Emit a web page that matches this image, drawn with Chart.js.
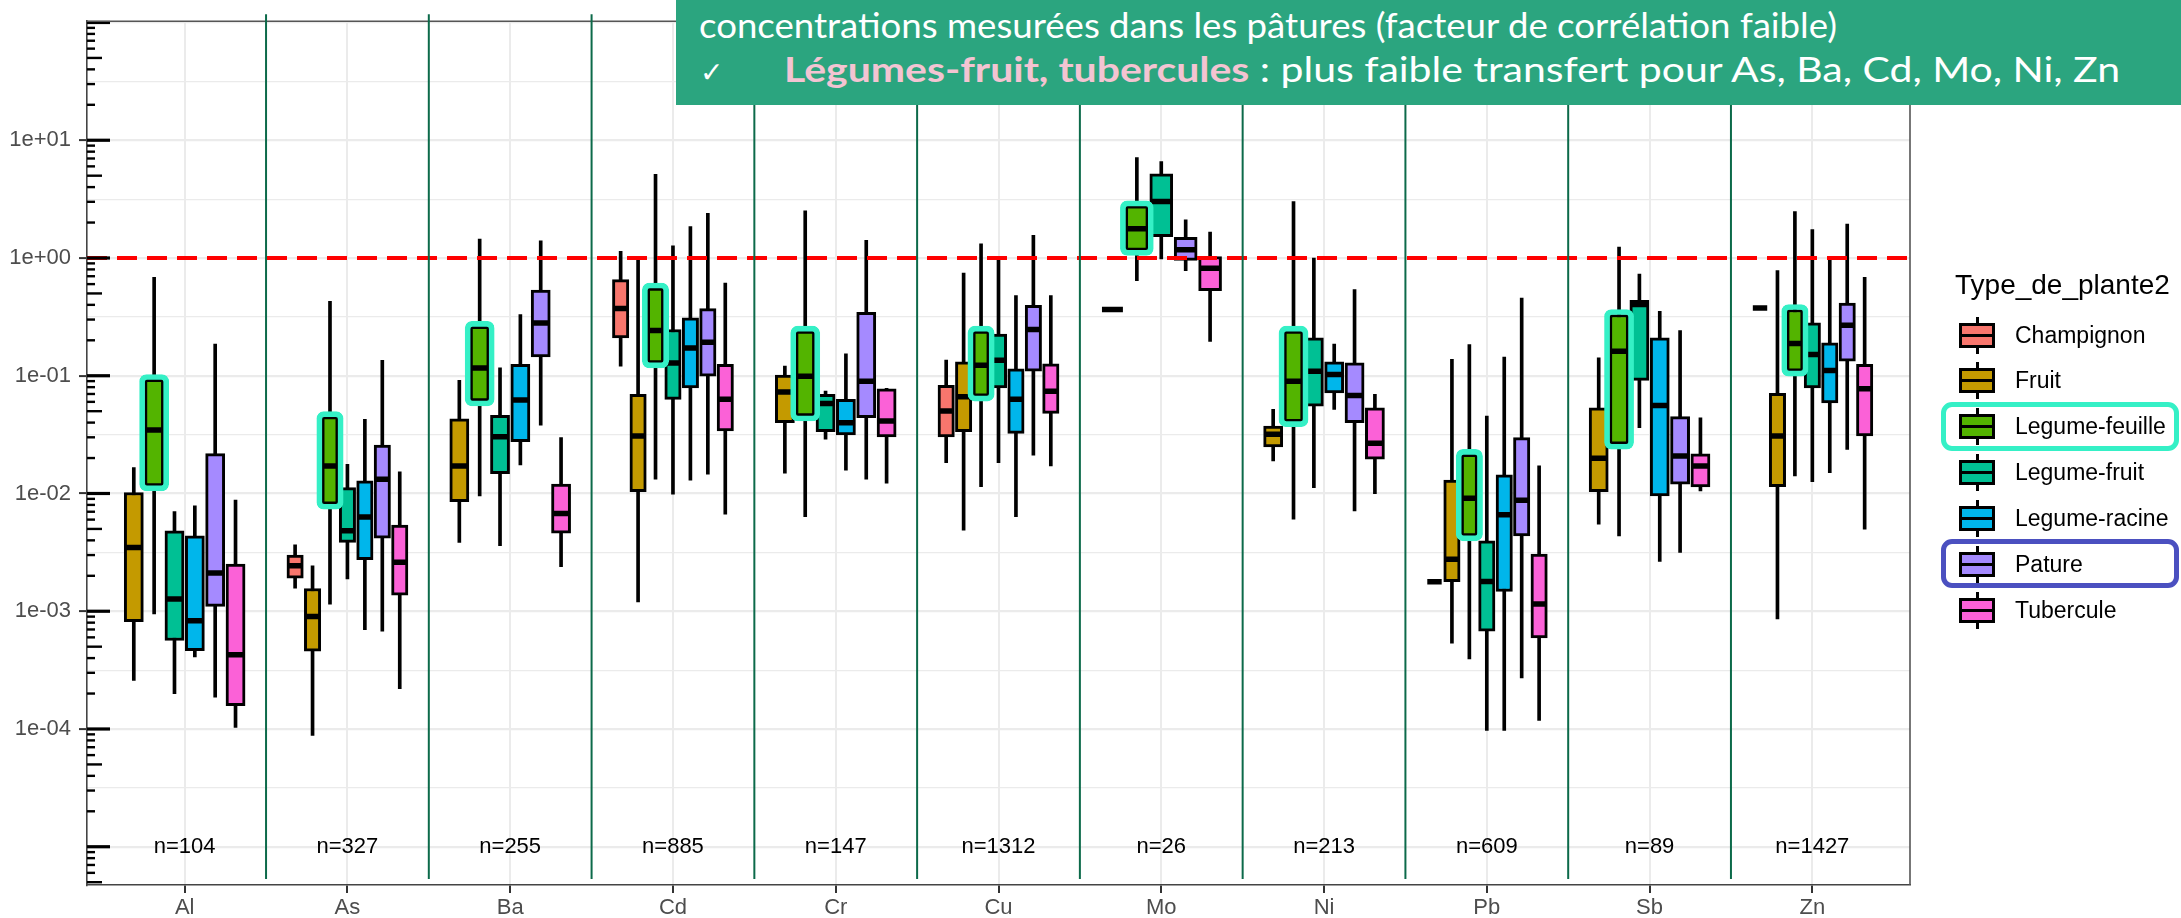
<!DOCTYPE html>
<html>
<head>
<meta charset="utf-8">
<script src="https://cdn.jsdelivr.net/npm/chart.js@4.4.1/dist/chart.umd.min.js"></script>
<style>
  html, body { margin: 0; padding: 0; background: #fff; }
  #wrap { position: relative; width: 2181px; height: 918px; overflow: hidden; }
  #chart { position: absolute; left: 0; top: 0; }
  .banner { position: absolute; left: 676px; top: 0; width: 1505px; height: 105px; background: #2ba57f;
            color: #fff; font-family: Lato, "Open Sans", sans-serif; font-size: 35px; }
  .banner .line { position: absolute; white-space: nowrap; line-height: 35px; transform-origin: 0 50%; }
  .banner .pink { color: #f3c4d2; font-weight: 700; }
  .banner .check { font-family: "DejaVu Sans", sans-serif; font-size: 28px; }
  .legend { position: absolute; left: 0; top: 0; font-family: "Liberation Sans", Arial, sans-serif; color: #000; }
  .legend .title { position: absolute; left: 1955px; top: 271px; font-size: 28px; line-height: 28px; white-space: nowrap; }
  .legend .item { position: absolute; left: 1959px; height: 37px; }
  .legend .whisk { position: absolute; left: 16.5px; top: 0; width: 3px; height: 37px; background: #000; }
  .legend .box { position: absolute; left: 0; top: 6px; width: 36px; height: 25px; box-sizing: border-box; border: 3px solid #000; }
  .legend .med { position: absolute; left: 0; top: 17px; width: 36px; height: 3px; background: #000; }
  .legend .label { position: absolute; left: 56px; top: 0; height: 37px; line-height: 37px; font-size: 23px; white-space: nowrap; }
  .legend .frame { position: absolute; left: 1941px; width: 238px; height: 49px; box-sizing: border-box; border: 5px solid; border-radius: 11px; }
</style>
</head>
<body>
<div id="wrap">
  <canvas id="chart" width="2181" height="918"></canvas>
  <div class="banner">
    <div class="line" id="bannerLine2" style="left:23px; top:7px;">concentrations mesurées dans les pâtures (facteur de corrélation faible)</div>
    <div class="line" style="left:24px; top:51px;"><span class="check">✓</span></div>
    <div class="line" id="bannerLine3" style="left:108px; top:51px;"><span class="pink">Légumes-fruit, tubercules</span> : plus faible transfert pour As, Ba, Cd, Mo, Ni, Zn</div>
  </div>
  <div class="legend" id="legend"></div>
</div>
<script>
// elements on the x axis, with sample sizes
const elements = ['Al', 'As', 'Ba', 'Cd', 'Cr', 'Cu', 'Mo', 'Ni', 'Pb', 'Sb', 'Zn'];
const sampleSizes = [104, 327, 255, 885, 147, 1312, 26, 213, 609, 89, 1427];

const plantTypes = ['Champignon', 'Fruit', 'Legume-feuille', 'Legume-fruit', 'Legume-racine', 'Pature', 'Tubercule'];
const plantColors = ['#f8766d', '#c49a00', '#53b400', '#00c094', '#00b6eb', '#a58aff', '#fb61d7'];

// box stats per element: [min, q1, median, q3, max], null = no data
const champignon = [
  null, [1.57e-3, 1.91e-3, 2.43e-3, 3.0e-3, 3.67e-3], null, [0.1205, 0.2095, 0.372, 0.655, 1.137], null,
  [0.0183, 0.0303, 0.0501, 0.0828, 0.1356], null, null, [1.78e-3, 1.78e-3, 1.78e-3, 1.78e-3, 1.78e-3], null,
  [0.376, 0.376, 0.376, 0.376, 0.376]
];
const fruit = [
  [2.58e-4, 8.16e-4, 3.48e-3, 0.0102, 0.01656], [8.8e-5, 4.57e-4, 9.0e-4, 1.56e-3, 2.43e-3],
  [3.84e-3, 8.54e-3, 0.01714, 0.0431, 0.0912], [1.2e-3, 0.01038, 0.0308, 0.0694, 1.01],
  [0.01486, 0.0399, 0.0726, 0.1012, 0.1205], [4.89e-3, 0.0335, 0.0662, 0.131, 0.745],
  [0.365, 0.365, 0.365, 0.365, 0.365], [0.01889, 0.0248, 0.0318, 0.0374, 0.0518],
  [5.35e-4, 1.78e-3, 2.77e-3, 0.01297, 0.1375], [5.5e-3, 0.01038, 0.0199, 0.0534, 0.1418],
  [8.6e-4, 0.01144, 0.0308, 0.0708, 0.78]
];
const legumeFeuille = [
  [9.5e-4, 0.0116, 0.0346, 0.093, 0.685], [1.15e-3, 8.1e-3, 0.01714, 0.0449, 0.429],
  [9.55e-3, 0.061, 0.1166, 0.263, 1.445], [0.0132, 0.1286, 0.242, 0.556, 5.14],
  [6.34e-3, 0.0455, 0.0992, 0.239, 2.52], [0.01144, 0.0672, 0.123, 0.239, 1.32],
  [0.642, 1.16, 1.77, 2.77, 7.12], [6.05e-3, 0.0407, 0.09, 0.239, 3.02],
  [3.94e-4, 4.37e-3, 9.12e-3, 0.0215, 0.184], [4.37e-3, 0.0262, 0.1615, 0.331, 1.236],
  [0.0141, 0.1094, 0.188, 0.365, 2.48]
];
const legumeFruit = [
  [1.99e-4, 5.64e-4, 1.27e-3, 4.82e-3, 7.03e-3], [1.88e-3, 3.84e-3, 4.82e-3, 0.0112, 0.0177],
  [3.6e-3, 0.01475, 0.0303, 0.0461, 0.1166], [9.86e-3, 0.063, 0.1285, 0.247, 1.27],
  [0.0289, 0.0335, 0.0582, 0.0694, 0.074], [0.0183, 0.0789, 0.1356, 0.226, 0.968],
  [0.98, 1.52, 3.02, 5.18, 6.59], [0.01122, 0.0552, 0.1094, 0.2095, 1.0],
  [9.7e-5, 6.76e-4, 1.79e-3, 3.97e-3, 0.0455], [0.0362, 0.0912, 0.402, 0.4375, 0.73],
  [0.0126, 0.0789, 0.1515, 0.281, 1.74]
];
const legumeRacine = [
  [4.1e-4, 4.63e-4, 8.3e-4, 4.37e-3, 7.85e-3], [6.98e-4, 2.74e-3, 6.3e-3, 0.0128, 0.0426],
  [0.01746, 0.0275, 0.0621, 0.1247, 0.331], [0.01297, 0.0789, 0.172, 0.31, 1.85],
  [0.01575, 0.0314, 0.0399, 0.063, 0.1534], [6.34e-3, 0.0324, 0.063, 0.1144, 0.48],
  null, [0.0518, 0.0716, 0.1026, 0.131, 0.186],
  [9.7e-5, 1.47e-3, 6.59e-3, 0.01438, 0.1438], [2.65e-3, 9.55e-3, 0.056, 0.2095, 0.3526],
  [0.01503, 0.0589, 0.111, 0.19, 1.0]
];
const pature = [
  [1.86e-4, 1.1e-3, 2.11e-3, 0.0218, 0.186], [6.76e-4, 4.18e-3, 0.0132, 0.0258, 0.135],
  [0.0381, 0.1446, 0.281, 0.535, 1.40], [0.01458, 0.0992, 0.1927, 0.372, 2.40],
  [0.0132, 0.044, 0.09, 0.346, 1.41], [0.0212, 0.1094, 0.247, 0.396, 1.555],
  [0.78, 0.955, 1.176, 1.50, 2.11], [7.12e-3, 0.0399, 0.0681, 0.1285, 0.539],
  [2.72e-4, 4.37e-3, 8.77e-3, 0.0298, 0.457], [3.16e-3, 0.012, 0.0208, 0.0449, 0.242],
  [0.0237, 0.133, 0.2685, 0.415, 1.94]
];
const tubercule = [
  [1.03e-4, 1.58e-4, 4.26e-4, 2.52e-3, 8.77e-3], [2.2e-4, 1.37e-3, 2.6e-3, 5.39e-3, 0.0153],
  [2.39e-3, 4.61e-3, 6.76e-3, 0.012, 0.0298], [6.68e-3, 0.034, 0.063, 0.1247, 0.612],
  [0.01222, 0.0303, 0.0412, 0.0774, 0.078], [0.01714, 0.0479, 0.074, 0.126, 0.48],
  [0.196, 0.528, 0.82, 1.03, 1.66], [9.98e-3, 0.01953, 0.0267, 0.0534, 0.0694],
  [1.18e-4, 5.94e-4, 1.15e-3, 3.06e-3, 0.01714], [0.0105, 0.01138, 0.0171, 0.0217, 0.044],
  [4.98e-3, 0.0308, 0.0774, 0.1247, 0.685]
];
const statsByType = [champignon, fruit, legumeFeuille, legumeFruit, legumeRacine, pature, tubercule];

const referenceLevel = 1;            // red dashed line
const highlightedType = 'Legume-feuille';
const yGridExponents = [-5, -4.5, -4, -3.5, -3, -2.5, -2, -1.5, -1, -0.5, 0, 0.5, 1, 1.5, 2];
const yLabelExponents = [-4, -3, -2, -1, 0, 1];
const nLabelLevel = 1e-5;

// layout
const W = 2181, H = 918;
const PAD_TOP = 19, PAD_RIGHT = 271, Y_AXIS_W = 87, X_AXIS_H = 33;
const X_MIN = -0.6, X_MAX = 10.6;
const Y_MIN = Math.pow(10, -5.325), Y_MAX = Math.pow(10, 2.011);
const unitPx = (W - PAD_RIGHT - Y_AXIS_W) / (X_MAX - X_MIN);
const decadePx = (H - PAD_TOP - X_AXIS_H) / (Math.log10(Y_MAX) - Math.log10(Y_MIN));
const DODGE = 0.75;
const FONT = '"Liberation Sans", Arial, sans-serif';
const FRAME_COLOR = '#35f0c6';
const frameFactor = Math.pow(10, 5 / decadePx);

// build boxplot datasets (dodged like ggplot)
const datasets = [];
elements.forEach((el, i) => {
  const present = plantTypes.map((t, k) => k).filter(k => statsByType[k][i]);
  const slot = DODGE / present.length;
  present.forEach((k, j) => {
    const s = statsByType[k][i];
    const x = i - DODGE / 2 + slot * (j + 0.5);
    const boxPx = slot * 0.94 * unitPx;
    if (s[0] !== s[4]) {
      datasets.push({ type: 'bar', order: 6, grouped: false, data: [{ x: x, y: [s[0], s[4]] }],
        backgroundColor: '#000', borderWidth: 0, barThickness: 3 });
    }
    if (s[1] !== s[3]) {
      datasets.push({ type: 'bar', order: 5, grouped: false, data: [{ x: x, y: [s[1], s[3]] }],
        backgroundColor: plantColors[k], borderColor: '#000', borderWidth: 3, borderSkipped: false,
        barThickness: boxPx });
    }
    datasets.push({ type: 'scatter', order: 4, data: [{ x: x, y: s[2] }], pointStyle: 'line',
      pointRadius: boxPx / 2 - 1, borderColor: '#000', borderWidth: 5.5 });
    if (plantTypes[k] === highlightedType) {
      datasets.push({ type: 'bar', order: 2, grouped: false,
        data: [{ x: x, y: [s[1] / frameFactor, s[3] * frameFactor] }],
        backgroundColor: 'rgba(0,0,0,0)', borderColor: FRAME_COLOR, borderWidth: 5,
        borderRadius: 7, borderSkipped: false, barThickness: boxPx + 10 });
    }
  });
});
datasets.push({ type: 'line', order: 3, data: [{ x: X_MIN, y: referenceLevel }, { x: X_MAX, y: referenceLevel }],
  borderColor: '#f00', borderWidth: 4, borderDash: [20, 10], pointRadius: 0, fill: false });

function fmtExp(v) {
  const e = Math.round(Math.log10(v));
  const sign = e < 0 ? '-' : '+';
  return '1e' + sign + String(Math.abs(e)).padStart(2, '0');
}
function isLabelled(v) { return yLabelExponents.some(e => Math.abs(Math.log10(v) - e) < 1e-6); }
function isMajor(v) { return Math.abs(Math.log10(v) - Math.round(Math.log10(v))) < 1e-6; }

const panelExtras = {
  id: 'panelExtras',
  afterDatasetsDraw(chart) {
    const { ctx, chartArea: a, scales: { x, y } } = chart;
    ctx.save();
    // log ticks inside the left edge
    ctx.strokeStyle = '#000';
    for (let e = -6; e <= 2; e++) {
      for (let d = 1; d <= 9; d++) {
        const v = d * Math.pow(10, e);
        if (v < Y_MIN || v > Y_MAX) continue;
        const py = y.getPixelForValue(v);
        const len = d === 1 ? 23 : (d === 5 ? 15 : 8);
        ctx.lineWidth = d === 1 ? 3.2 : 2.4;
        ctx.beginPath();
        ctx.moveTo(a.left, py);
        ctx.lineTo(a.left + len, py);
        ctx.stroke();
      }
    }
    // n= labels
    ctx.fillStyle = '#000';
    ctx.font = '22px ' + FONT;
    ctx.textAlign = 'center';
    ctx.textBaseline = 'middle';
    const ny = y.getPixelForValue(nLabelLevel);
    elements.forEach((el, i) => ctx.fillText('n=' + sampleSizes[i], x.getPixelForValue(i), ny));
    // panel border (top / right)
    ctx.strokeStyle = '#555';
    ctx.lineWidth = 1.6;
    ctx.beginPath();
    ctx.moveTo(a.left, a.top);
    ctx.lineTo(a.right, a.top);
    ctx.lineTo(a.right, a.bottom);
    ctx.stroke();
    // separators between elements
    ctx.strokeStyle = '#0c6a4a';
    ctx.lineWidth = 2;
    for (let i = 0; i < elements.length - 1; i++) {
      const px = x.getPixelForValue(i + 0.5);
      ctx.beginPath();
      ctx.moveTo(px, a.top - 7);
      ctx.lineTo(px, a.bottom - 6);
      ctx.stroke();
    }
    ctx.restore();
  }
};

new Chart(document.getElementById('chart'), {
  type: 'bar',
  data: { datasets: datasets },
  options: {
    responsive: false,
    devicePixelRatio: 1,
    animation: false,
    events: [],
    layout: { padding: { top: PAD_TOP, right: PAD_RIGHT, left: 0, bottom: 0 } },
    plugins: { legend: { display: false }, tooltip: { enabled: false }, title: { display: false } },
    scales: {
      x: {
        type: 'linear', min: X_MIN, max: X_MAX, offset: false,
        afterBuildTicks: s => { s.ticks = elements.map((_, i) => ({ value: i })); },
        afterFit: s => { s.height = X_AXIS_H; },
        ticks: { callback: v => elements[v], font: { family: FONT, size: 22 }, color: '#4d4d4d',
                 padding: 2, autoSkip: false, maxRotation: 0, minRotation: 0 },
        grid: { color: '#ebebeb', lineWidth: 2, offset: false, tickColor: '#333', tickLength: 8, tickWidth: 2 },
        border: { color: '#444', width: 1.6 }
      },
      y: {
        type: 'logarithmic', min: Y_MIN, max: Y_MAX,
        afterBuildTicks: s => { s.ticks = yGridExponents.map(e => ({ value: Math.pow(10, e) })); },
        afterFit: s => { s.width = Y_AXIS_W; },
        ticks: { callback: v => isLabelled(v) ? fmtExp(v) : '', font: { family: FONT, size: 22 },
                 color: '#4d4d4d', padding: 8, autoSkip: false },
        grid: {
          color: '#ebebeb',
          lineWidth: c => isMajor(c.tick.value) ? 2.2 : 1.2,
          tickColor: c => isLabelled(c.tick.value) ? '#333' : 'rgba(0,0,0,0)',
          tickLength: 8, tickWidth: 2
        },
        border: { color: '#444', width: 1.6 }
      }
    }
  },
  plugins: [panelExtras]
});

// legend
const legend = document.getElementById('legend');
const rowCenters = [335, 380.7, 426.7, 472, 518, 564, 610];
let html = '<div class="title">Type_de_plante2</div>';
plantTypes.forEach((t, k) => {
  html += '<div class="item" style="top:' + (rowCenters[k] - 18.5) + 'px">' +
    '<div class="whisk"></div><div class="box" style="background:' + plantColors[k] + '"></div>' +
    '<div class="med"></div><div class="label">' + t + '</div></div>';
});
html += '<div class="frame" style="top:401.5px; border-color:' + FRAME_COLOR + '"></div>';
html += '<div class="frame" style="top:539px; border-color:#4b50c0"></div>';
legend.innerHTML = html;

// stretch banner lines to the widths they take in the slide
function fitWidth(id, target) {
  const el = document.getElementById(id);
  const w = el.getBoundingClientRect().width;
  el.style.transform = 'scaleX(' + (target / w) + ')';
}
fitWidth('bannerLine2', 1138);
fitWidth('bannerLine3', 1336);
</script>
</body>
</html>
